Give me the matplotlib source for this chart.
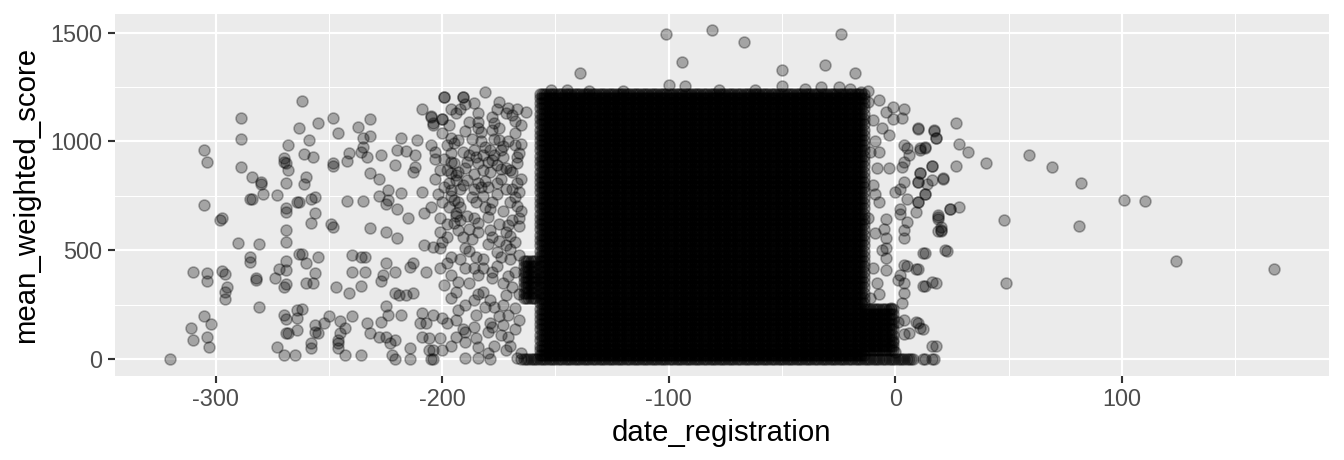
import numpy as np
import matplotlib.pyplot as plt
from matplotlib.ticker import MultipleLocator

# points: (date_registration, mean_weighted_score)

# early registrations, sparse part on the left
early = [(-320, 0), (-310, 402), (-311, 145), (-310, 89), (-305, 199), (-305, 960), (-304, 908),
         (-305, 709), (-304, 394), (-304, 359), (-304, 101), (-303, 58), (-302, 162), (-298, 639),
         (-297, 647), (-297, 405), (-296, 391), (-296, 310), (-296, 278), (-295, 333), (-290, 535),
         (-289, 1110), (-289, 1012), (-289, 881), (-285, 471), (-285, 448), (-284, 838), (-285, 735),
         (-284, 738), (-282, 372), (-282, 364), (-281, 529), (-281, 242), (-280, 812), (-280, 804),
         (-279, 757), (-273, 752), (-273, 58), (-274, 372), (-272, 413), (-270, 922), (-270, 905),
         (-268, 986), (-269, 899), (-268, 868), (-269, 810), (-269, 593), (-269, 693), (-269, 674),
         (-269, 540), (-269, 451), (-269, 410), (-269, 344), (-270, 333), (-270, 203), (-269, 185),
         (-269, 122), (-268, 122), (-270, 20), (-265, 20), (-264, 191), (-264, 135), (-264, 226),
         (-263, 1063), (-262, 1187), (-261, 942), (-261, 807), (-260, 838), (-264, 722), (-263, 722),
         (-263, 482), (-262, 482), (-260, 443), (-260, 352), (-262, 229), (-259, 1006), (-257, 927),
         (-258, 734), (-256, 746), (-256, 673), (-258, 627), (-255, 1086), (-255, 468), (-256, 398),
         (-257, 349), (-258, 73), (-258, 50), (-256, 127), (-255, 122), (-256, 157), (-252, 165),
         (-250, 199), (-249, 621), (-248, 609), (-248, 1110), (-248, 888), (-248, 899), (-246, 1037),
         (-247, 333), (-245, 176), (-246, 89), (-246, 73), (-246, 50), (-245, 119), (-243, 142),
         (-243, 20), (-242, 910), (-242, 726), (-241, 303), (-241, 948), (-240, 479), (-240, 199),
         (-240, 402), (-237, 1068), (-236, 953), (-236, 336), (-236, 20), (-235, 1017), (-235, 975),
         (-235, 726), (-236, 468), (-234, 471), (-234, 402), (-233, 165), (-232, 122), (-232, 1101),
         (-232, 1025), (-232, 853), (-233, 930), (-232, 601), (-228, 830), (-228, 749), (-228, 101),
         (-227, 173), (-227, 940), (-227, 359), (-226, 387), (-225, 440), (-225, 712), (-225, 245),
         (-225, 101), (-225, 583), (-224, 777), (-224, 203), (-224, 731), (-223, 73), (-222, 20),
         (-221, 89), (-221, 402), (-221, 303), (-221, 891), (-221, 0), (-220, 555), (-220, 960),
         (-220, 688), (-219, 295), (-218, 762), (-218, 203), (-218, 1014), (-216, 955), (-216, 295),
         (-215, 650), (-214, 50), (-214, 0), (-213, 303), (-214, 425), (-213, 443), (-212, 884),
         (-213, 861), (-212, 937), (-211, 1006), (-210, 168), (-209, 211), (-209, 1151), (-209, 769),
         (-209, 101), (-208, 525), (-208, 670), (-207, 165), (-205, 1113), (-204, 1075), (-205, 0),
         (-204, 43), (-200, 1101), (-199, 1202)]

# the busier strip between -207 and -160
mid = [(-199, 1202), (-191, 1202), (-190, 1174), (-181, 1225), (-191, 1205), (-196, 1151), (-205, 1116),
       (-200, 1101), (-204, 1083), (-194, 1130), (-184, 1130), (-178, 1113), (-176, 1151), (-172, 1130),
       (-171, 1152), (-167, 1151), (-163, 1136), (-165, 1075), (-184, 1090), (-184, 1060), (-190, 1050),
       (-196, 1014), (-205, 983), (-203, 952), (-203, 920), (-195, 991), (-196, 945), (-195, 899),
       (-196, 853), (-194, 822), (-196, 777), (-195, 731), (-194, 671), (-195, 625), (-186, 960),
       (-185, 930), (-184, 900), (-178, 1052), (-179, 960), (-178, 915), (-179, 860), (-180, 790),
       (-173, 980), (-173, 930), (-172, 880), (-174, 830), (-165, 990), (-166, 945), (-167, 900),
       (-165, 830), (-166, 770), (-165, 680), (-186, 780), (-185, 720), (-186, 650), (-203, 830),
       (-202, 760), (-205, 700), (-201, 650), (-193, 720), (-194, 660), (-201, 585), (-193, 593),
       (-184, 585), (-179, 593), (-172, 585), (-204, 517), (-201, 509), (-196, 471), (-190, 510),
       (-185, 471), (-176, 493), (-172, 524), (-168, 540), (-207, 402), (-201, 417), (-196, 387),
       (-193, 356), (-190, 418), (-184, 387), (-182, 418), (-178, 372), (-173, 349), (-182, 310),
       (-194, 310), (-196, 280), (-186, 272), (-179, 272), (-172, 295), (-168, 234), (-173, 249),
       (-193, 226), (-204, 203), (-200, 188), (-198, 165), (-194, 180), (-185, 203), (-179, 165),
       (-178, 150), (-173, 157), (-171, 203), (-206, 96), (-201, 96), (-190, 127), (-190, 81),
       (-185, 96), (-184, 57), (-180, 127), (-174, 111), (-171, 104), (-172, 42), (-206, 42),
       (-200, 42), (-190, 4), (-184, 4), (-179, 0), (-204, 0), (-167, 4), (-198, 870), (-197, 810),
       (-192, 780), (-190, 880), (-188, 940), (-182, 870), (-181, 820), (-176, 760), (-170, 720),
       (-169, 640), (-175, 620), (-181, 700), (-188, 600), (-198, 560), (-170, 460), (-168, 400),
       (-176, 430), (-182, 460), (-188, 350), (-199, 340), (-175, 200), (-181, 240), (-191, 140),
       (-196, 60), (-177, 60), (-168, 140), (-169, 330), (-200, 1040), (-187, 1010), (-177, 1010),
       (-168, 1040), (-198, 985), (-196, 905), (-193, 860), (-197, 700), (-192, 640), (-189, 825),
       (-187, 745), (-183, 1000), (-182, 940), (-183, 790), (-180, 655), (-178, 720), (-176, 890),
       (-175, 1060), (-174, 960), (-171, 1000), (-170, 870), (-169, 780), (-167, 705), (-166, 610),
       (-170, 565), (-175, 545), (-180, 530), (-187, 550), (-192, 460), (-198, 440), (-186, 420),
       (-178, 400), (-171, 380), (-166, 480), (-166, 300), (-184, 300), (-190, 250), (-177, 240),
       (-166, 180), (-170, 60), (-186, 150), (-194, 100), (-180, 30), (-165, 30), (-175, 1180),
       (-186, 1175), (-168, 1095), (-197, 1075), (-193, 1005), (-191, 950), (-189, 905), (-194, 845),
       (-191, 800), (-196, 750), (-192, 700), (-189, 660), (-183, 1045), (-181, 975), (-180, 905),
       (-186, 850), (-184, 810), (-182, 750), (-179, 690), (-184, 625), (-177, 1085), (-175, 1005),
       (-177, 940), (-174, 875), (-176, 810), (-172, 780), (-173, 680), (-171, 615), (-169, 1120),
       (-168, 985), (-167, 930), (-169, 860), (-167, 810), (-168, 745), (-166, 650), (-199, 920),
       (-201, 870), (-199, 790), (-200, 720), (-198, 620), (-188, 1090), (-192, 1150), (-200, 540),
       (-191, 560), (-178, 560), (-170, 505), (-174, 470), (-188, 495)]

# isolated high scores and the ragged top edge of the dense block
top = [(-101, 1494), (-81, 1511), (-67, 1457), (-24, 1494), (-94, 1367), (-50, 1330), (-31, 1350),
       (-18, 1313), (-139, 1313), (-152, 1235), (-145, 1235), (-135, 1232), (-120, 1230), (-100, 1258),
       (-93, 1255), (-78, 1235), (-62, 1238), (-50, 1254), (-40, 1240), (-33, 1248), (-25, 1250),
       (-20, 1240), (-15, 1225)]

# right edge of the dense block, around day 0
fringe = [(-7, 1189), (-1, 1159), (4, 1151), (3, 1110), (-1, 1105), (-4, 1136), (10, 1060), (17, 1052),
          (18, 1014), (11, 960), (13, 972), (4, 983), (5, 968), (6, 937), (4, 906), (16, 888), (3, 884),
          (11, 853), (21, 830), (16, 822), (10, 815), (14, 807), (4, 815), (2, 784), (13, 761), (10, 723),
          (5, 738), (2, 692), (2, 669), (9, 677), (5, 631), (24, 692), (19, 646), (20, 608), (-4, 646),
          (0, 769), (-3, 876), (-3, 1029), (-7, 953), (4, 593), (4, 555), (12, 486), (22, 501), (19, 589),
          (4, 433), (9, 414), (2, 387), (4, 349), (12, 336), (16, 353), (4, 303), (3, 257), (4, 180),
          (9, 172), (11, 142), (4, 118), (16, 62), (-1, 81), (1, 172), (-4, 463), (-4, 555), (-4, 509),
          (-4, 409), (1, 363), (-2, 234), (0, 35), (-12, 1180), (-10, 1100), (-9, 1000), (-11, 950),
          (-8, 880), (-10, 800), (-7, 720), (-12, 650), (-9, 580), (-6, 500), (-10, 420), (-8, 350),
          (-11, 280), (-6, 1060), (-9, 760), (-5, 600), (-7, 300), (-12, 1230)]

# late registrations, sparse part on the right
late = [(10, 1058), (17, 1049), (18, 1014), (27, 1084), (28, 988), (32, 951), (40, 899), (59, 937),
        (69, 881), (82, 809), (101, 729), (110, 726), (48, 639), (81, 610), (124, 453), (167, 414),
        (49, 350), (27, 888), (16, 887), (11, 968), (13, 975), (21, 832), (11, 853), (10, 815),
        (13, 761), (10, 723), (24, 690), (28, 699), (19, 651), (19, 663), (20, 593), (20, 589),
        (23, 498), (13, 486), (10, 416), (5, 430), (13, 336), (18, 352), (10, 168), (12, 141),
        (6, 119), (18, 61)]

# dense block: every registration day in the range holds students at every score level
block_days = (-157, -14)
block_scores = [18, 41, 63, 88, 112, 137, 160, 186, 209, 233, 258, 281, 306, 330, 353, 379, 402,
                427, 451, 474, 499, 523, 548, 571, 596, 619, 644, 668, 693, 717, 740, 766, 789, 814,
                838, 861, 887, 910, 934, 959, 983, 1006, 1031, 1055, 1080, 1103, 1128, 1152, 1176,
                1199, 1218]
bar_days = (-164, -159)
bar_scores = [281, 306, 330, 353, 379, 402, 427, 451]
band_days = (-13, -1)
band_scores = [41, 63, 88, 112, 137, 160, 186, 209, 233]
# students with a zero score
zero_days = (-165, 8)
zero_extra = [12, 13, 16, 17]


def grid_points(days, scores):
    d = np.arange(days[0], days[1] + 1)
    dd, ss = np.meshgrid(d, scores)
    return list(zip(dd.ravel(), ss.ravel()))


pts = early + mid + top + fringe + late
pts += grid_points(block_days, block_scores)
pts += grid_points(bar_days, bar_scores)
pts += grid_points(band_days, band_scores)
pts += grid_points(zero_days, [0])
pts += [(d, 0) for d in zero_extra]
x = [p[0] for p in pts]
y = [p[1] for p in pts]

plt.rcParams['font.family'] = ['Liberation Sans', 'DejaVu Sans']
plt.rcParams['axes.unicode_minus'] = False

fig = plt.figure(figsize=(7, 460 / 192), dpi=192)
ax = fig.add_axes([0.0856, 0.1833, 0.9032, 0.7863])
ax.set_facecolor('#EBEBEB')

ax.scatter(x, y, s=17, c='black', alpha=0.3, linewidths=0.6, edgecolors='black', zorder=3)

ax.set_xlim(-344.4, 191.4)
ax.set_ylim(-75.5, 1585.5)
ax.xaxis.set_major_locator(MultipleLocator(100))
ax.xaxis.set_minor_locator(MultipleLocator(50))
ax.yaxis.set_major_locator(MultipleLocator(500))
ax.yaxis.set_minor_locator(MultipleLocator(250))
ax.grid(which='major', color='white', linewidth=0.8, zorder=0)
ax.grid(which='minor', color='white', linewidth=0.4, zorder=0)
ax.set_axisbelow(True)

for s in ax.spines.values():
    s.set_visible(False)
ax.tick_params(which='major', length=2.75, width=0.8, color='#333333',
               labelsize=8.8, labelcolor='#4D4D4D', pad=2)
ax.tick_params(which='minor', length=0)

# naming the axes
ax.set_xlabel('date_registration', fontsize=11, labelpad=3)
ax.set_ylabel('mean_weighted_score', fontsize=11, labelpad=4)

fig.savefig('out.png', dpi=192)
